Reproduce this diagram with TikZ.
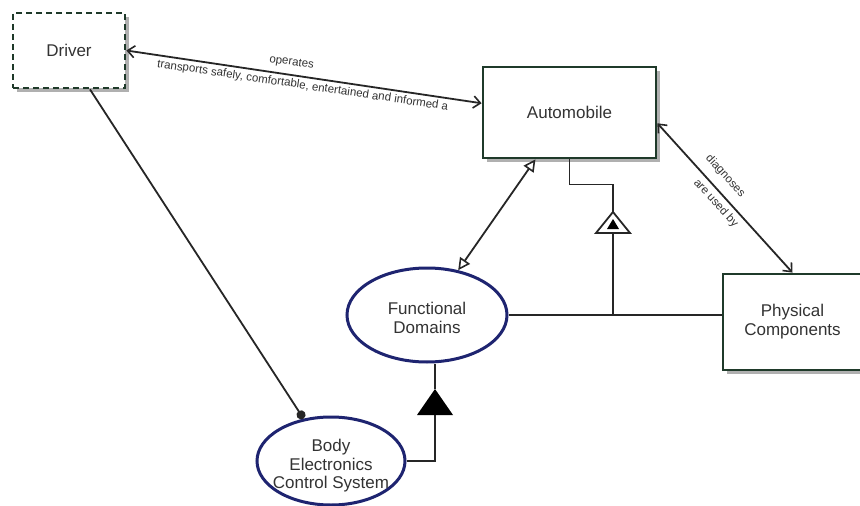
\documentclass[tikz,border=0pt]{standalone}
\usepackage{fontspec}
\setmainfont{Liberation Sans}
\usetikzlibrary{shapes.geometric,arrows.meta,calc,shadows}
\definecolor{boxgreen}{HTML}{1F3A2A}
\definecolor{ovalblue}{HTML}{1E2470}
\definecolor{shadowgray}{HTML}{B0B0B0}
\definecolor{inkgray}{HTML}{333333}

\begin{document}
\begin{tikzpicture}[x=1pt,y=-1pt,
  block/.style={rectangle, draw=boxgreen, line width=2.8pt, fill=white,
    inner sep=0pt, align=center, text=inkgray,
    font=\fontsize{17}{19}\selectfont,
    drop shadow={shadow xshift=4pt, shadow yshift=-4pt, fill=shadowgray, opacity=1}},
  oval/.style={ellipse, draw=ovalblue, line width=3pt, fill=white, inner sep=0pt},
  ovaltext/.style={align=center, text=inkgray, inner sep=0pt,
    font=\fontsize{17}{18.5}\selectfont},
  conn/.style={draw=black!85, line width=1.8pt},
  lbl/.style={font=\fontsize{11.5}{12}\selectfont, text=inkgray, inner sep=0pt},
  barb/.tip={Straight Barb[length=7pt,width=12pt,line width=1.6pt]},
  hollow/.tip={Triangle[open,length=12pt,width=12pt,line width=1.6pt]}
]
\clip (0,0) rectangle (860,506);
\fill[white] (0,0) rectangle (860,506);

% classes and domains
\node[block, dash pattern=on 6pt off 4pt, minimum width=112pt, minimum height=75pt]
  (driver) at (69,50.5) {Driver};
\node[block, minimum width=173pt, minimum height=91pt]
  (auto) at (569.5,112.5) {Automobile};
\node[block, minimum width=139pt, minimum height=96pt]
  (phys) at (792.5,322) {Physical\\Components};
\node[oval, minimum width=160pt, minimum height=94pt,
  label={[ovaltext, yshift=-3pt]center:Functional\\Domains}] (fd) at (427,315) {};
\node[oval, minimum width=148pt, minimum height=88pt,
  label={[ovaltext, yshift=-5pt]center:Body\\Electronics\\Control System}] (body) at (331,461) {};

% associations
\draw[conn, barb-barb] (driver.east) -- (auto.174)
  node[lbl, sloped, pos=.46, yshift=12pt] {operates}
  node[lbl, sloped, pos=.5, yshift=-9pt] {transports safely, comfortable, entertained and informed a};
\draw[conn, barb-barb] (auto.-7) -- (phys.north)
  node[lbl, sloped, pos=.42, yshift=15pt] {diagnoses}
  node[lbl, sloped, pos=.49, yshift=-10.5pt] {are used by};
\draw[conn, hollow-hollow] (auto.234) -- (fd);
\draw[conn, -{Circle[length=9pt]}] ([xshift=21pt]driver.south) -- (body);

% aggregation of the automobile
\coordinate (j) at (613,315);
\coordinate (gbase) at (613,233);
\coordinate (gtip) at (613,212);
\draw[conn] (fd.east) -- (phys.west |- fd.east);
\draw[conn] (j) -- (gbase);
\draw[conn, fill=white] ($(gbase)+(-17,0)$) -- ($(gbase)+(17,0)$) -- (gtip) -- cycle;
\fill[black] ($(gbase)+(-6,-4)$) -- ($(gbase)+(6,-4)$) -- ($(gbase)+(0,-14)$) -- cycle;
\draw[conn] (gtip) |- ($(auto.south)+(0,25)$) -- (auto.south);

% specialisation of the functional domains
\coordinate (sbase) at (435,415);
\coordinate (stip) at (435,389);
\draw[conn] (body.east) -| (sbase);
\fill[black] ($(sbase)+(-18,0)$) -- ($(sbase)+(18,0)$) -- (stip) -- cycle;
\draw[conn] (stip) -- (fd.south -| stip);
\end{tikzpicture}
\end{document}
